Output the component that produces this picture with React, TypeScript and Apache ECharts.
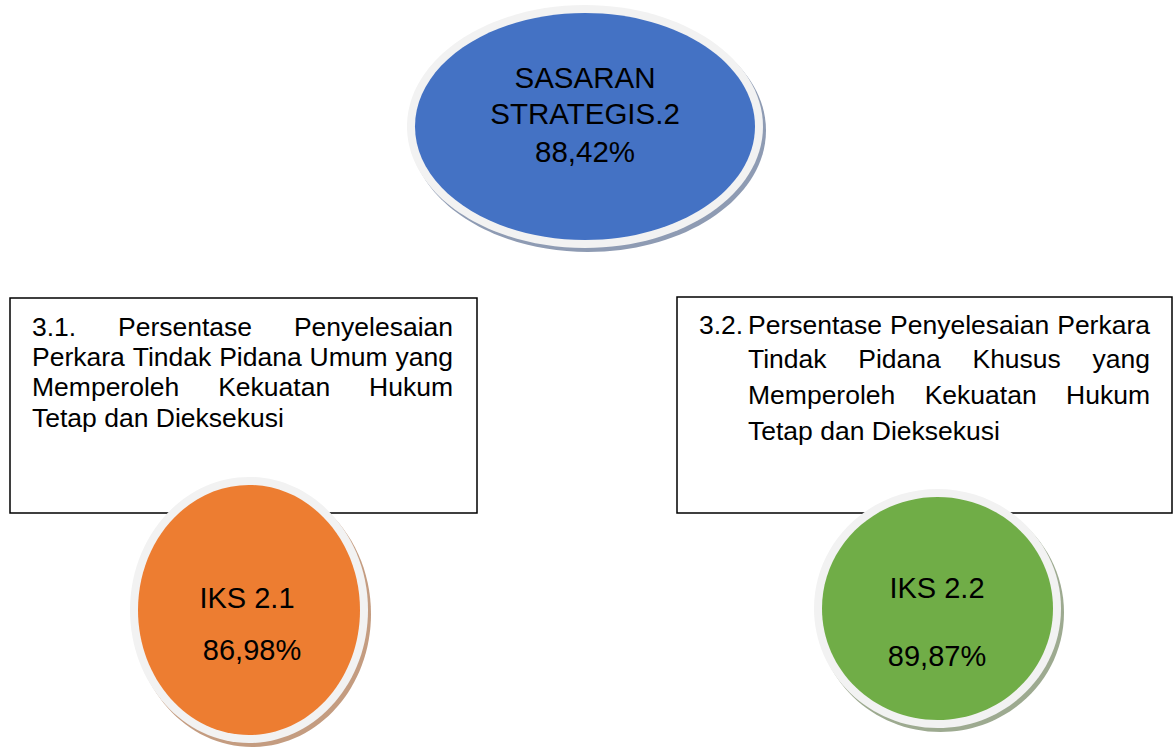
import React, { useEffect, useRef } from "react";
import * as echarts from "echarts";

// ---- data ----
const nodeNames = ["SASARAN STRATEGIS.2", "IKS 2.1", "IKS 2.2"];
const nodeValues = [88.42, 86.98, 89.87];
const titleLines = ["SASARAN", "STRATEGIS.2"];
const indicatorNumbers = ["3.1.", "3.2."];
const indicator1Lines = [
  "3.1. Persentase Penyelesaian",
  "Perkara Tindak Pidana Umum yang",
  "Memperoleh Kekuatan Hukum",
  "Tetap dan Dieksekusi",
];
const indicator2Lines = [
  "Persentase Penyelesaian Perkara",
  "Tindak Pidana Khusus yang",
  "Memperoleh Kekuatan Hukum",
  "Tetap dan Dieksekusi",
];

const FONT = "'Liberation Sans', Arial, sans-serif";
const fmt = (v: number) => v.toFixed(2).replace(".", ",") + "%";

let measureCtx: CanvasRenderingContext2D | null = null;
function measure(t: string, fs: number) {
  if (!measureCtx) measureCtx = document.createElement("canvas").getContext("2d");
  measureCtx!.font = `${fs}px ${FONT}`;
  return measureCtx!.measureText(t).width;
}

function txt(text: string, x: number, y: number, fs: number, align = "left") {
  return {
    type: "text",
    x,
    y,
    z: 20,
    style: { text, fontSize: fs, fontFamily: FONT, fill: "#000", align, verticalAlign: "middle" },
  };
}

function justifiedLines(lines: string[], left: number, right: number, ys: number[], fs: number) {
  const out: any[] = [];
  lines.forEach((line, i) => {
    const words = line.split(" ");
    const last = i === lines.length - 1;
    if (last || words.length < 2) {
      out.push(txt(line, left, ys[i], fs));
      return;
    }
    const widths = words.map((w) => measure(w, fs));
    const total = widths.reduce((a, b) => a + b, 0);
    const gap = (right - left - total) / (words.length - 1);
    let x = left;
    words.forEach((w, k) => {
      out.push(txt(w, x, ys[i], fs));
      x += widths[k] + gap;
    });
  });
  return out;
}

function bubble(cx: number, cy: number, rx: number, ry: number, fill: string, shadow: string) {
  const b = 8;
  return [
    { type: "ellipse", z: 10, shape: { cx: cx + 3, cy: cy + 4, rx: rx + b, ry: ry + b }, style: { fill: shadow } },
    { type: "ellipse", z: 11, shape: { cx, cy, rx: rx + b, ry: ry + b }, style: { fill: "#F2F2F2" } },
    { type: "ellipse", z: 12, shape: { cx, cy, rx, ry }, style: { fill } },
  ];
}

export default function App() {
  const ref = useRef<HTMLDivElement>(null);
  useEffect(() => {
    const chart = echarts.init(ref.current!, null, { renderer: "svg" });
    const fsT = 29.5;
    const fsC = 29;
    const fsB = 26.5;
    const mid = (base: number, fs: number) => base - 0.35 * fs;

    const elements: any[] = [];
    // boxes
    elements.push({
      type: "rect",
      z: 1,
      shape: { x: 10, y: 298, width: 467, height: 215 },
      style: { fill: "#fff", stroke: "#000", lineWidth: 1.5 },
    });
    elements.push({
      type: "rect",
      z: 1,
      shape: { x: 677, y: 297, width: 495, height: 216 },
      style: { fill: "#fff", stroke: "#000", lineWidth: 1.5 },
    });
    // box texts
    elements.push(
      ...justifiedLines(indicator1Lines, 32, 453, [336, 366, 396, 427].map((b) => mid(b, fsB)), fsB)
    );
    elements.push(txt(indicatorNumbers[1], 699, mid(334, fsB), fsB));
    elements.push(
      ...justifiedLines(indicator2Lines, 748, 1150, [334, 368, 404, 440].map((b) => mid(b, fsB)), fsB)
    );
    // bubbles
    elements.push(...bubble(585, 126.5, 170, 113.5, "#4472C4", "#8E9BB3"));
    elements.push(...bubble(249, 610, 111, 125, "#ED7D31", "#C49C80"));
    elements.push(...bubble(937.5, 608.5, 115.5, 111.5, "#70AD47", "#9DAA90"));
    // bubble texts
    elements.push(txt(titleLines[0], 585, mid(88, fsT), fsT, "center"));
    elements.push(txt(titleLines[1], 585, mid(124, fsT), fsT, "center"));
    elements.push(txt(fmt(nodeValues[0]), 585, mid(162, fsT), fsT, "center"));
    elements.push(txt(nodeNames[1], 247, mid(608, fsC), fsC, "center"));
    elements.push(txt(fmt(nodeValues[1]), 252, mid(660, fsC), fsC, "center"));
    elements.push(txt(nodeNames[2], 937, mid(598, fsC), fsC, "center"));
    elements.push(txt(fmt(nodeValues[2]), 937, mid(666, fsC), fsC, "center"));

    chart.setOption({
      animation: false,
      backgroundColor: "#fff",
      graphic: { elements },
    });
    return () => chart.dispose();
  }, []);
  return (
    <div
      ref={ref}
      style={{ position: "fixed", left: 0, top: 0, width: 1176, height: 749 }}
    />
  );
}
